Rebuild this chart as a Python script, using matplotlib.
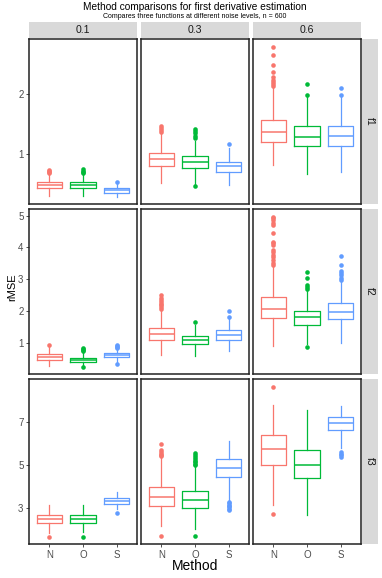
import matplotlib
matplotlib.use("Agg")
import matplotlib.pyplot as plt
import numpy as np

plt.rcParams["font.family"] = ["Liberation Sans", "DejaVu Sans"]

# ── Data ─────────────────────────────────────────────────────────────────────
functions = ["f1", "f2", "f3"]
noise_levels = ["0.1", "0.3", "0.6"]
methods = ["N", "O", "S"]
colors = ["#F8766D", "#00BA38", "#619CFF"]

# [function][noise][method]
q1 = [
    [[0.435, 0.435, 0.358], [0.807, 0.769, 0.703], [1.193, 1.127, 1.132]],
    [[0.467, 0.392, 0.539], [1.08, 0.97, 1.09], [1.784, 1.55, 1.75]],
    [[2.307, 2.307, 3.185], [3.06, 3.01, 4.45], [4.99, 4.40, 6.63]],
]
median = [
    [[0.484, 0.489, 0.396], [0.913, 0.868, 0.797], [1.362, 1.285, 1.29]],
    [[0.561, 0.467, 0.602], [1.26, 1.08, 1.24], [2.066, 1.80, 1.98]],
    [[2.46, 2.48, 3.305], [3.52, 3.38, 4.86], [5.73, 5.0, 6.97]],
]
q3 = [
    [[0.534, 0.534, 0.435], [1.021, 0.967, 0.873], [1.571, 1.456, 1.466]],
    [[0.655, 0.53, 0.665], [1.47, 1.21, 1.39], [2.442, 2.0, 2.24]],
    [[2.658, 2.658, 3.46], [3.97, 3.785, 5.26], [6.37, 5.68, 7.25]],
]
whisker_lo = [
    [[0.31, 0.31, 0.296], [0.517, 0.50, 0.484], [0.819, 0.666, 0.70]],
    [[0.266, 0.27, 0.40], [0.62, 0.58, 0.73], [0.893, 0.95, 1.0]],
    [[1.845, 1.85, 2.95], [2.15, 2.0, 3.30], [3.15, 2.68, 5.80]],
]
whisker_hi = [
    [[0.67, 0.67, 0.50], [1.33, 1.22, 1.10], [2.10, 1.95, 1.96]],
    [[0.85, 0.72, 0.80], [2.03, 1.57, 1.78], [3.40, 2.65, 2.93]],
    [[3.106, 3.11, 3.74], [5.36, 4.92, 6.11], [7.80, 7.54, 7.74]],
]
outliers = [
    [
        [[0.68, 0.70, 0.72, 0.74], [0.68, 0.70, 0.72, 0.75], [0.534]],
        [[1.37, 1.40, 1.43, 1.47], [0.468, 1.26, 1.30, 1.34, 1.38, 1.42], [1.16]],
        [[2.13, 2.16, 2.19, 2.22, 2.27, 2.35, 2.47, 2.64, 2.78], [1.98, 2.16], [1.98, 2.09]],
    ],
    [
        [[0.925], [0.25, 0.75, 0.78, 0.81, 0.84], [0.34, 0.83, 0.87, 0.90, 0.925]],
        [[2.07, 2.12, 2.17, 2.22, 2.28, 2.35, 2.42, 2.51], [1.65], [1.82, 1.99]],
        [[3.45, 3.52, 3.60, 3.68, 3.76, 3.84, 3.92, 4.08, 4.13, 4.18, 4.45,
          4.71, 4.76, 4.87, 4.92, 4.97],
         [0.875, 2.70, 2.75, 2.80, 3.04, 3.21],
         [2.98, 3.05, 3.12, 3.20, 3.24, 3.44, 3.74]],
    ],
    [
        [[1.66], [1.66], [2.74]],
        [[1.69, 5.40, 5.46, 5.52, 5.60, 5.69, 5.97],
         [1.69, 4.97, 5.05, 5.12, 5.20, 5.28, 5.36, 5.45, 5.54],
         [2.89, 2.95, 3.02, 3.08, 3.15, 3.22, 3.28]],
        [[2.69, 8.65], [], [5.36, 5.45, 5.52, 5.59]],
    ],
]
y_ticks = [[1, 2], [1, 2, 3, 4, 5], [3, 5, 7]]

# ── Layout (pixels) ──────────────────────────────────────────────────────────
W, H = 382, 578
col_x = [(29, 137), (141, 249), (253, 361)]
row_y = [(39, 204), (209, 374), (379, 544)]
strip_top = (22, 38)
strip_right = (362, 378)


def fig_rect(x0, x1, y0, y1):
    return [x0 / W, 1 - y1 / H, (x1 - x0) / W, (y1 - y0) / H]


def strip(rect, label, rotation=0):
    sax = fig.add_axes(rect)
    sax.set_facecolor("#D9D9D9")
    sax.set_xticks([])
    sax.set_yticks([])
    for sp in sax.spines.values():
        sp.set_visible(False)
    sax.text(0.5, 0.5, label, ha="center", va="center", rotation=rotation,
             fontsize=7.6, color="#1A1A1A", transform=sax.transAxes)


fig = plt.figure(figsize=(W / 100, H / 100), dpi=100)

for r in range(3):
    # free y scale per row, ggplot-style 5% expansion
    vals = []
    for c in range(3):
        for m in range(3):
            vals += [whisker_lo[r][c][m], whisker_hi[r][c][m]] + outliers[r][c][m]
    lo, hi = min(vals), max(vals)
    pad = (hi - lo) * 0.05
    ylim = (lo - pad, hi + pad)

    for c in range(3):
        ax = fig.add_axes(fig_rect(*col_x[c], *row_y[r]))
        for m in range(3):
            st = [{
                "q1": q1[r][c][m], "med": median[r][c][m], "q3": q3[r][c][m],
                "whislo": whisker_lo[r][c][m], "whishi": whisker_hi[r][c][m],
                "fliers": outliers[r][c][m],
            }]
            col = colors[m]
            ax.bxp(
                st, positions=[m + 1], widths=0.75, showcaps=False,
                boxprops=dict(color=col, linewidth=0.9),
                medianprops=dict(color=col, linewidth=1.1),
                whiskerprops=dict(color=col, linewidth=0.9),
                flierprops=dict(marker="o", markerfacecolor=col, markeredgecolor="none",
                                markersize=3.3),
            )
        ax.set_xlim(0.4, 3.6)
        ax.set_ylim(*ylim)
        ax.set_facecolor("white")
        for sp in ax.spines.values():
            sp.set_color("#222222")
            sp.set_linewidth(1.1)
        ax.tick_params(length=2.5, width=0.6, color="#333333",
                       labelcolor="#4D4D4D", labelsize=7, pad=1.5)
        ax.set_yticks(y_ticks[r])
        if c > 0:
            ax.tick_params(axis="y", length=0, labelleft=False)
        if r == 2:
            ax.set_xticks([1, 2, 3], methods)
        else:
            ax.set_xticks([1, 2, 3], [])
            ax.tick_params(axis="x", length=0)

        if r == 0:
            strip(fig_rect(*col_x[c], *strip_top), noise_levels[c])

    strip(fig_rect(*strip_right, *row_y[r]), functions[r], rotation=-90)

cx = (col_x[0][0] + col_x[2][1]) / 2 / W
fig.text(cx, 1 - 7.5 / H, "Method comparisons for first derivative estimation",
         ha="center", va="center", fontsize=7.3, color="black")
fig.text(cx, 1 - 16.5 / H, "Compares three functions at different noise levels, n = 600",
         ha="center", va="center", fontsize=5, color="black")
fig.text(cx, 1 - 566 / H, "Method", ha="center", va="center", fontsize=10)
fig.text(12 / W, 1 - 287 / H, "rMSE", ha="center", va="center",
         rotation=90, fontsize=8)

fig.savefig("out.png", dpi=100)
